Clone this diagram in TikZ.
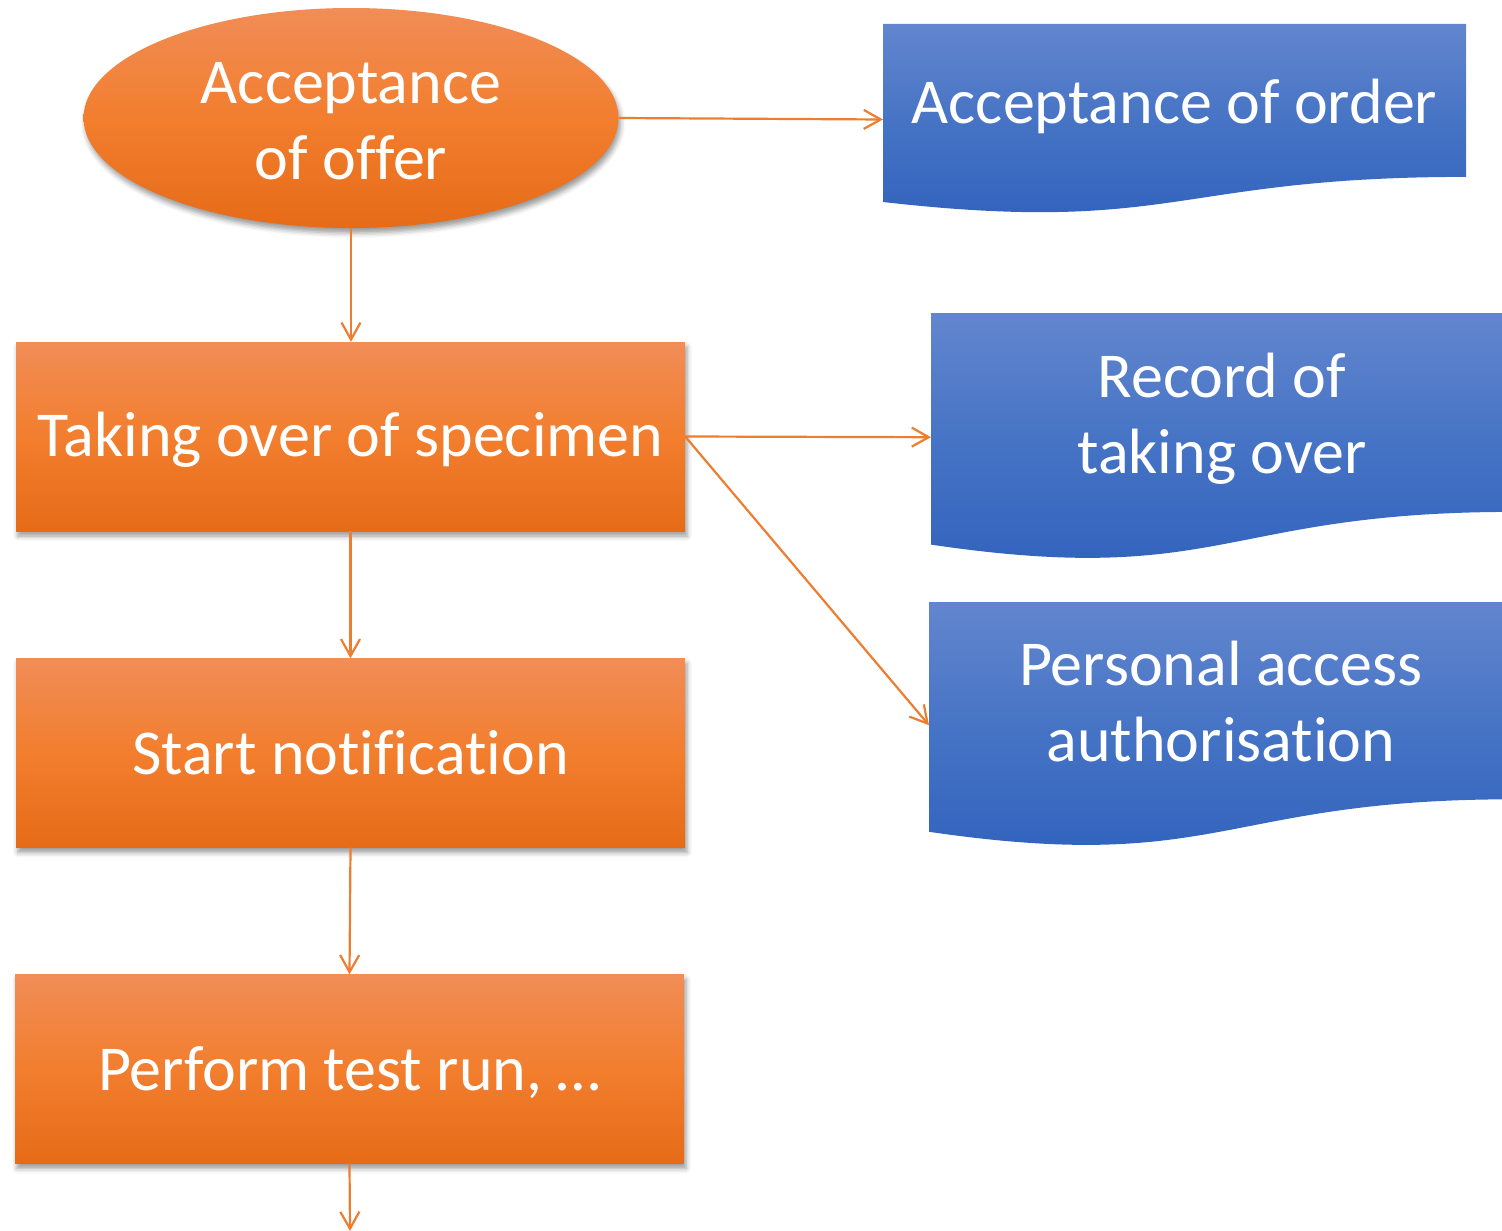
\documentclass[tikz,border=0pt]{standalone}
\usepackage{fontspec}
\setmainfont{Carlito}[RawFeature={-liga;-clig;-dlig;-calt;-rlig}]
\usetikzlibrary{shapes.geometric,arrows.meta,shadows.blur}
\newcommand\nolig{\kern0pt{}}
\definecolor{orT}{HTML}{F18D57}
\definecolor{orM}{HTML}{F27E2E}
\definecolor{orB}{HTML}{E66B17}
\definecolor{blT}{HTML}{6286CE}
\definecolor{blM}{HTML}{4472C4}
\definecolor{blB}{HTML}{2F61BC}
\definecolor{arr}{HTML}{ED7D31}
\tikzset{
  orshade/.style={top color=orT, bottom color=orB, middle color=orM, draw=none},
  myshadow/.style={blur shadow={shadow xshift=2pt, shadow yshift=-5pt, shadow blur radius=5pt, shadow opacity=40}},
  bigfont/.style={font=\fontsize{64}{76}\selectfont},
  procbox/.style={rectangle, orshade, myshadow, minimum width=669pt, minimum height=189pt, inner sep=0pt, text=white, bigfont, align=center},
  startell/.style={ellipse, orshade, myshadow, minimum width=535pt, minimum height=220pt, inner sep=0pt, text=white, bigfont, align=center},
  docarea/.style={rectangle, draw=none, inner sep=0pt, anchor=north west},
  doctext/.style={text=white, bigfont, align=center, inner sep=0pt},
  docshade/.style={top color=blT, bottom color=blB, middle color=blM, draw=none},
  conn/.style={draw=arr, line width=2.2pt, -{Straight Barb[length=17pt, width=19pt, line width=2.2pt]}},
}
\begin{document}
\begin{tikzpicture}[x=1pt, y=-1pt]
\useasboundingbox (0,0) rectangle (1502,1231);
% process nodes
\node[startell] (s) at (351,118) {};
\node[text=white, bigfont, align=center, inner sep=0pt] (st) at (351,121) {Acceptance\\of offer};
\node[procbox] (b1) at (350.5,436.5) {};
\node[text=white, bigfont, inner sep=0pt] (b1t) at (350.5,440) {Taking over of specimen};
\node[procbox] (b2) at (350.5,753) {};
\node[text=white, bigfont, inner sep=0pt] (b2t) at (350.5,753) {Start not\nolig ification};
\node[procbox] (b3) at (349.5,1069) {};
\node[text=white, bigfont, inner sep=0pt] (b3t) at (349.5,1073) {Perform test run, …};
\coordinate (end) at (350,1231);
% documents
\node[docarea, minimum width=583pt, minimum height=190.6pt] (d1) at (883,24) {};
\shade[docshade] (883,24) -- (1466,24) -- (1466,176.9) .. controls (1174.5,176.9) and (1174.5,235.1) .. (883,202) -- cycle;
\node[doctext] (d1t) at (1174.5,106) {Acceptance of order};
\node[docarea, minimum width=582pt, minimum height=248pt] (d2) at (931,313) {};
\shade[docshade] (931,313) -- (1513,313) -- (1513,511.9) .. controls (1222,511.9) and (1222,587.7) .. (931,544.6) -- cycle;
\node[doctext] (d2t) at (1222,419) {Record of\\taking over};
\node[docarea, minimum width=584pt, minimum height=246pt] (d3) at (929,602) {};
\shade[docshade] (929,602) -- (1513,602) -- (1513,799.3) .. controls (1221,799.3) and (1221,874.4) .. (929,831.8) -- cycle;
\node[doctext] (d3t) at (1221,702) {Personal access\\authorisat\nolig ion};
% connectors
\draw[conn] (s.east) -- (d1.west);
\draw[conn] (s.south) -- (s.south |- b1.north);
\draw[conn] (b1.east) -- (d2.west);
\draw[conn] (b1.east) -- (d3.west);
\draw[conn] (b1.south) -- (b2.north);
\draw[conn] (b2.south) -- (b3.north);
\draw[conn] (b3.south) -- (end);
\end{tikzpicture}
\end{document}
